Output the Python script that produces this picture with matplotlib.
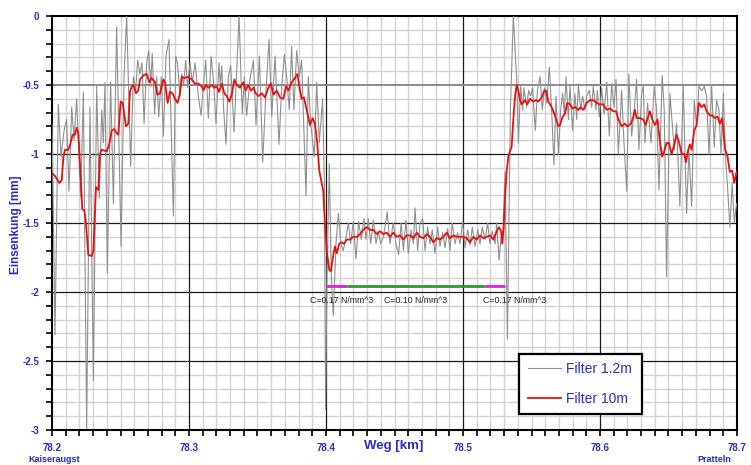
import numpy as np
import matplotlib
matplotlib.use("Agg")
import matplotlib.pyplot as plt
from matplotlib.ticker import MultipleLocator

# ---- Filter 1.2m (grey, raw-ish signal) : vertices
x_fine = [78.2000, 78.2022, 78.2046, 78.2066, 78.2088, 78.2107, 78.2124, 78.2144, 78.2161, 78.2180,
          78.2195, 78.2209, 78.2229, 78.2253, 78.2277, 78.2302, 78.2326, 78.2345, 78.2363, 78.2375,
          78.2387, 78.2404, 78.2428, 78.2448, 78.2472, 78.2504, 78.2526, 78.2545, 78.2574, 78.2594,
          78.2611, 78.2625, 78.2642, 78.2657, 78.2672, 78.2691, 78.2706, 78.2720, 78.2732, 78.2749,
          78.2764, 78.2779, 78.2798, 78.2813, 78.2832, 78.2854, 78.2886, 78.2903, 78.2917, 78.2934,
          78.2947, 78.2961, 78.2976, 78.2990, 78.3007, 78.3025, 78.3044, 78.3068, 78.3088, 78.3105,
          78.3122, 78.3141, 78.3161, 78.3178, 78.3197, 78.3219, 78.3229, 78.3239, 78.3253, 78.3270,
          78.3287, 78.3304, 78.3329, 78.3346, 78.3365, 78.3389, 78.3404, 78.3421, 78.3445, 78.3470,
          78.3489, 78.3514, 78.3538, 78.3560, 78.3584, 78.3604, 78.3628, 78.3657, 78.3677, 78.3696,
          78.3713, 78.3732, 78.3749, 78.3766, 78.3786, 78.3805, 78.3822, 78.3854, 78.3871, 78.3888,
          78.3915, 78.3932, 78.3951, 78.3975, 78.3988, 78.3997, 78.4007, 78.4024, 78.4039, 78.4053,
          78.4073, 78.4090, 78.4109, 78.4126, 78.4143, 78.4163, 78.4180, 78.4199, 78.4219, 78.4238,
          78.4258, 78.4277, 78.4292, 78.4309, 78.4326, 78.4345, 78.4365, 78.4382, 78.4399, 78.4420,
          78.4447, 78.4467, 78.4491, 78.4511, 78.4530, 78.4548, 78.4565, 78.4584, 78.4601, 78.4621,
          78.4638, 78.4650, 78.4669, 78.4686, 78.4706, 78.4723, 78.4742, 78.4759, 78.4776, 78.4796,
          78.4815, 78.4832, 78.4852, 78.4869, 78.4888, 78.4905, 78.4922, 78.4942, 78.4961, 78.4978,
          78.4998, 78.5015, 78.5034, 78.5051, 78.5068, 78.5088, 78.5107, 78.5124, 78.5141, 78.5161,
          78.5180, 78.5197, 78.5214, 78.5234, 78.5246, 78.5263, 78.5278, 78.5292, 78.5307, 78.5324,
          78.5346, 78.5367, 78.5392, 78.5404, 78.5421, 78.5435, 78.5445, 78.5465, 78.5479, 78.5494,
          78.5508, 78.5528, 78.5543, 78.5562, 78.5579, 78.5594, 78.5611, 78.5630, 78.5647, 78.5664,
          78.5679, 78.5696, 78.5713, 78.5727, 78.5740, 78.5752, 78.5769, 78.5781, 78.5800, 78.5817,
          78.5830, 78.5842, 78.5859, 78.5873, 78.5890, 78.5903, 78.5922, 78.5939, 78.5951, 78.5971,
          78.5980, 78.5995, 78.6012, 78.6029, 78.6049, 78.6068, 78.6085, 78.6102, 78.6117, 78.6134,
          78.6158, 78.6175, 78.6195, 78.6211, 78.6231, 78.6250, 78.6267, 78.6284, 78.6304, 78.6316,
          78.6328, 78.6347, 78.6372, 78.6396, 78.6413, 78.6430, 78.6454, 78.6469, 78.6486, 78.6510,
          78.6542, 78.6559, 78.6583, 78.6608, 78.6632, 78.6649, 78.6669, 78.6688, 78.6705, 78.6722,
          78.6742, 78.6761, 78.6778, 78.6795, 78.6815, 78.6834, 78.6851, 78.6868, 78.6883, 78.6900,
          78.6917, 78.6931, 78.6948, 78.6965, 78.6980, 78.6997]
y_fine = [-0.78, -2.31, -0.64, -1.02, -0.83, -0.75, -1.27, -0.66, -0.90, -0.60,
          -0.97, -1.31, -0.55, -2.99, -0.66, -2.64, -0.51, -1.32, -0.68, -0.92,
          -0.48, -1.86, -0.48, -1.36, -0.08, -1.67, -0.44, 0.00, -1.09, -0.44,
          -0.54, -0.32, -0.42, -0.34, -0.78, -0.34, -0.25, -0.51, -0.27, -0.71,
          -0.44, -0.73, -0.44, -0.87, -0.29, -0.17, -1.45, -0.29, -0.35, -0.58,
          -0.42, -0.50, -0.32, -0.52, -0.34, -0.48, -0.34, -0.58, -0.72, -0.51,
          -0.32, -0.74, -0.29, -0.46, -0.78, -0.34, -0.51, -0.36, -0.68, -0.93,
          -0.44, -0.36, -0.84, -0.44, 0.00, -0.71, -0.44, -0.72, -0.46, -0.32,
          -0.79, -0.29, -1.06, -0.58, -0.17, -0.73, -0.29, -0.93, -0.51, -0.28,
          -0.44, -0.68, -0.22, -0.68, -0.25, -0.44, -0.32, -1.30, -0.44, -0.78,
          -1.02, -0.48, -0.92, -0.60, -1.21, -2.85, -1.89, -1.07, -1.89, -2.17,
          -1.65, -1.43, -1.65, -1.70, -1.62, -1.50, -1.65, -1.49, -1.76, -1.49,
          -1.62, -1.47, -1.62, -1.47, -1.65, -1.48, -1.65, -1.56, -1.65, -1.60,
          -1.42, -1.65, -1.50, -1.65, -1.73, -1.50, -1.70, -1.48, -1.72, -1.55,
          -1.65, -1.39, -1.70, -1.50, -1.47, -1.70, -1.53, -1.65, -1.55, -1.72,
          -1.53, -1.67, -1.57, -1.68, -1.54, -1.70, -1.50, -1.65, -1.57, -1.65,
          -1.49, -1.68, -1.55, -1.66, -1.53, -1.67, -1.55, -1.65, -1.53, -1.62,
          -1.50, -1.65, -1.56, -1.65, -1.50, -1.77, -1.60, -1.55, -1.13, -2.34,
          -0.68, 0.00, -0.46, -0.92, -0.51, -0.68, -0.52, -0.66, -0.54, -0.58,
          -0.52, -0.83, -0.54, -0.44, -0.68, -0.52, -0.63, -0.37, -0.68, -1.08,
          -0.58, -1.00, -0.68, -0.56, -0.71, -0.44, -0.75, -0.51, -0.83, -0.56,
          -0.75, -0.49, -0.68, -0.58, -0.68, -0.58, -0.54, -0.66, -0.51, -0.68,
          -0.54, -0.73, -0.52, -0.71, -0.48, -0.87, -0.49, -0.66, -0.46, -1.00,
          -0.54, -0.92, -1.27, -0.42, -0.87, -0.68, -0.46, -0.97, -0.56, -0.51,
          -0.92, -0.63, -0.92, -0.51, -0.68, -1.26, -0.43, -0.68, -1.89, -0.56,
          -0.97, -0.78, -1.38, -0.51, -1.43, -0.97, -1.38, -0.61, -0.80, -0.51,
          -0.54, -0.51, -0.58, -1.00, -0.51, -0.95, -0.61, -0.68, -1.00, -0.56,
          -1.04, -1.24, -1.53, -1.21, -1.50, -1.36]

# ---- Filter 10m (red, smoothed)
x_smooth = [78.2000, 78.2022, 78.2054, 78.2071, 78.2083, 78.2095, 78.2119, 78.2136, 78.2151, 78.2168,
            78.2180, 78.2192, 78.2209, 78.2221, 78.2236, 78.2248, 78.2265, 78.2290, 78.2302, 78.2321,
            78.2338, 78.2350, 78.2363, 78.2399, 78.2418, 78.2436, 78.2453, 78.2472, 78.2484, 78.2501,
            78.2516, 78.2540, 78.2557, 78.2569, 78.2582, 78.2594, 78.2613, 78.2630, 78.2642, 78.2667,
            78.2691, 78.2710, 78.2727, 78.2752, 78.2769, 78.2788, 78.2813, 78.2825, 78.2844, 78.2861,
            78.2879, 78.2898, 78.2917, 78.2934, 78.2947, 78.2966, 78.2995, 78.3020, 78.3044, 78.3068,
            78.3093, 78.3105, 78.3122, 78.3141, 78.3166, 78.3185, 78.3202, 78.3219, 78.3239, 78.3258,
            78.3275, 78.3295, 78.3312, 78.3331, 78.3348, 78.3372, 78.3397, 78.3414, 78.3433, 78.3453,
            78.3470, 78.3487, 78.3506, 78.3531, 78.3555, 78.3579, 78.3599, 78.3616, 78.3640, 78.3664,
            78.3689, 78.3708, 78.3725, 78.3749, 78.3773, 78.3791, 78.3805, 78.3822, 78.3839, 78.3859,
            78.3883, 78.3902, 78.3919, 78.3936, 78.3951, 78.3968, 78.3980, 78.3992, 78.4005, 78.4024,
            78.4036, 78.4048, 78.4065, 78.4078, 78.4097, 78.4114, 78.4131, 78.4151, 78.4175, 78.4199,
            78.4228, 78.4248, 78.4272, 78.4297, 78.4321, 78.4345, 78.4370, 78.4394, 78.4418, 78.4443,
            78.4467, 78.4491, 78.4516, 78.4540, 78.4565, 78.4589, 78.4613, 78.4638, 78.4662, 78.4686,
            78.4711, 78.4735, 78.4759, 78.4784, 78.4808, 78.4832, 78.4857, 78.4881, 78.4905, 78.4930,
            78.4954, 78.4978, 78.5003, 78.5027, 78.5051, 78.5076, 78.5100, 78.5124, 78.5149, 78.5173,
            78.5197, 78.5222, 78.5246, 78.5263, 78.5278, 78.5287, 78.5297, 78.5307, 78.5319, 78.5331,
            78.5343, 78.5355, 78.5367, 78.5380, 78.5392, 78.5404, 78.5416, 78.5428, 78.5452, 78.5470,
            78.5489, 78.5513, 78.5533, 78.5550, 78.5574, 78.5594, 78.5606, 78.5623, 78.5647, 78.5671,
            78.5696, 78.5708, 78.5727, 78.5744, 78.5761, 78.5781, 78.5800, 78.5817, 78.5842, 78.5859,
            78.5878, 78.5903, 78.5927, 78.5951, 78.5976, 78.6000, 78.6024, 78.6049, 78.6073, 78.6097,
            78.6117, 78.6134, 78.6158, 78.6182, 78.6199, 78.6226, 78.6243, 78.6255, 78.6267, 78.6291,
            78.6316, 78.6333, 78.6352, 78.6364, 78.6382, 78.6401, 78.6420, 78.6437, 78.6454, 78.6469,
            78.6486, 78.6503, 78.6523, 78.6542, 78.6559, 78.6576, 78.6596, 78.6615, 78.6627, 78.6644,
            78.6656, 78.6669, 78.6688, 78.6705, 78.6722, 78.6742, 78.6761, 78.6778, 78.6802, 78.6819,
            78.6839, 78.6858, 78.6875, 78.6892, 78.6912, 78.6931, 78.6948, 78.6965, 78.6980, 78.6997]
y_smooth = [-1.14, -1.16, -1.21, -1.19, -1.02, -0.97, -0.97, -0.92, -0.86, -0.86,
            -0.81, -0.85, -1.16, -1.40, -1.41, -1.50, -1.73, -1.74, -1.70, -1.24,
            -1.26, -1.00, -0.97, -0.98, -0.93, -0.83, -0.82, -0.85, -0.86, -0.62,
            -0.63, -0.80, -0.78, -0.55, -0.51, -0.50, -0.56, -0.54, -0.46, -0.43,
            -0.42, -0.48, -0.45, -0.48, -0.57, -0.56, -0.46, -0.48, -0.63, -0.55,
            -0.56, -0.60, -0.63, -0.56, -0.44, -0.45, -0.44, -0.46, -0.49, -0.49,
            -0.51, -0.54, -0.50, -0.52, -0.50, -0.52, -0.51, -0.55, -0.49, -0.56,
            -0.58, -0.62, -0.57, -0.46, -0.50, -0.52, -0.48, -0.54, -0.50, -0.54,
            -0.52, -0.56, -0.58, -0.56, -0.59, -0.52, -0.49, -0.57, -0.54, -0.59,
            -0.60, -0.51, -0.54, -0.48, -0.45, -0.42, -0.51, -0.60, -0.59, -0.68,
            -0.79, -0.74, -0.78, -0.92, -1.12, -1.21, -1.27, -1.50, -1.70, -1.84,
            -1.85, -1.76, -1.67, -1.72, -1.65, -1.64, -1.65, -1.62, -1.62, -1.60,
            -1.60, -1.58, -1.55, -1.53, -1.55, -1.55, -1.58, -1.56, -1.58, -1.57,
            -1.60, -1.57, -1.60, -1.59, -1.62, -1.59, -1.59, -1.61, -1.57, -1.60,
            -1.61, -1.58, -1.60, -1.64, -1.61, -1.62, -1.60, -1.57, -1.61, -1.59,
            -1.60, -1.60, -1.60, -1.61, -1.64, -1.60, -1.62, -1.59, -1.61, -1.60,
            -1.59, -1.62, -1.56, -1.53, -1.56, -1.65, -1.53, -1.31, -1.12, -1.02,
            -0.98, -0.95, -0.75, -0.58, -0.50, -0.54, -0.61, -0.64, -0.61, -0.64,
            -0.60, -0.62, -0.61, -0.62, -0.59, -0.54, -0.54, -0.62, -0.66, -0.72,
            -0.80, -0.79, -0.73, -0.71, -0.63, -0.64, -0.67, -0.66, -0.68, -0.66,
            -0.68, -0.63, -0.61, -0.61, -0.63, -0.64, -0.64, -0.68, -0.67, -0.69,
            -0.69, -0.75, -0.80, -0.78, -0.80, -0.78, -0.73, -0.68, -0.74, -0.74,
            -0.75, -0.79, -0.73, -0.69, -0.75, -0.79, -0.75, -0.91, -1.02, -0.98,
            -0.92, -0.92, -1.00, -0.93, -0.86, -0.91, -1.00, -1.00, -1.06, -0.97,
            -0.93, -0.97, -0.83, -0.79, -0.63, -0.66, -0.64, -0.69, -0.72, -0.72,
            -0.74, -0.73, -0.78, -0.74, -0.96, -1.02, -1.13, -1.12, -1.21, -1.13]

# ---- bedding modulus zones
zone_start = [78.400, 78.415, 78.516]
zone_end = [78.415, 78.516, 78.531]
zone_c = [0.17, 0.10, 0.17]
zone_colors = ["#e020e0", "#2a9a2a", "#e020e0"]
zone_level = -1.955
zone_label_x = [78.388, 78.4425, 78.5145]

blue = "#2b2bd0"

fig = plt.figure(figsize=(7.51, 4.65), dpi=100)
ax = fig.add_axes([52 / 751, 1 - 430 / 465, 685 / 751, 414 / 465])

ax.set_xlim(78.2, 78.7)
ax.set_ylim(-3, 0)

ax.xaxis.set_major_locator(MultipleLocator(0.1))
ax.xaxis.set_minor_locator(MultipleLocator(0.01))
ax.yaxis.set_major_locator(MultipleLocator(0.5))
ax.yaxis.set_minor_locator(MultipleLocator(0.1))

# light minor grid, black major grid drawn on top of it
ax.grid(which="minor", color="#d2d2d2", lw=1.0)
ax.grid(which="major", visible=False)
ax.set_axisbelow(True)
for xv in [78.3, 78.4, 78.5, 78.6]:
    ax.axvline(xv, color="#1a1a1a", lw=0.9, zorder=1.5)
for yv in [-1, -1.5, -2, -2.5]:
    ax.axhline(yv, color="#1a1a1a", lw=0.9, zorder=1.5)
ax.axhline(-0.5, color="#8a8a8a", lw=1.4, zorder=1.5)

ax.plot(x_fine, y_fine, color="#909090", lw=0.8, label="Filter 1.2m", zorder=3)
ax.plot(x_smooth, y_smooth, color="#e81010", lw=1.3, label="Filter 10m", zorder=4)

for x0, x1, c, col, lx in zip(zone_start, zone_end, zone_c, zone_colors, zone_label_x):
    ax.plot([x0, x1], [zone_level, zone_level], color=col, lw=2, zorder=5, solid_capstyle="butt")
    ax.text(lx, zone_level - 0.11, "C=%.2f N/mm^3" % c, fontsize=6.3, color="#222222",
            family="Liberation Sans", va="center", ha="left", zorder=6)

for sp in ax.spines.values():
    sp.set_color("black")
    sp.set_linewidth(1.5)

ax.tick_params(which="both", direction="out", color="black", width=1.2)
ax.tick_params(which="major", length=4, pad=5)
ax.tick_params(which="minor", length=4)
ax.set_xticks([78.2, 78.3, 78.4, 78.5, 78.6, 78.7])
ax.set_xticklabels(["78.2", "78.3", "78.4", "78.5", "78.6", "78.7"])
ax.set_yticks([0, -0.5, -1, -1.5, -2, -2.5, -3])
ax.set_yticklabels(["0", "-0.5", "-1", "-1.5", "-2", "-2.5", "-3"])
for lab in ax.get_xticklabels() + ax.get_yticklabels():
    lab.set_color(blue)
    lab.set_fontsize(7)
    lab.set_fontweight("bold")
    lab.set_family("Liberation Sans")

fig.text(394 / 751, 1 - 446 / 465, "Weg [km]", color=blue, fontsize=9.5, fontweight="bold",
         family="Liberation Sans", ha="center", va="center")
fig.text(16 / 751, 1 - 225 / 465, "Einsenkung [mm]", color=blue, fontsize=8.5, fontweight="bold",
         family="Liberation Sans", rotation=90, ha="center", va="center")
fig.text(28 / 751, 1 - 459 / 465, "Kaiseraugst", color=blue, fontsize=6.5, fontweight="bold",
         family="Liberation Sans", ha="left", va="center")
fig.text(697 / 751, 1 - 459 / 465, "Pratteln", color=blue, fontsize=6.5, fontweight="bold",
         family="Liberation Sans", ha="left", va="center")

leg = ax.legend(loc="lower left", bbox_to_anchor=(0.682, 0.039, 0.179, 0.152), mode="expand",
                handlelength=2.4, handletextpad=0.4, labelspacing=1.1, borderpad=0.6,
                borderaxespad=0, fancybox=False, framealpha=1, edgecolor="black",
                labelcolor=blue, prop={"family": "Liberation Sans", "size": 10})
leg.get_frame().set_linewidth(1.6)
leg.set_zorder(10)

fig.savefig("out.png", dpi=100)
